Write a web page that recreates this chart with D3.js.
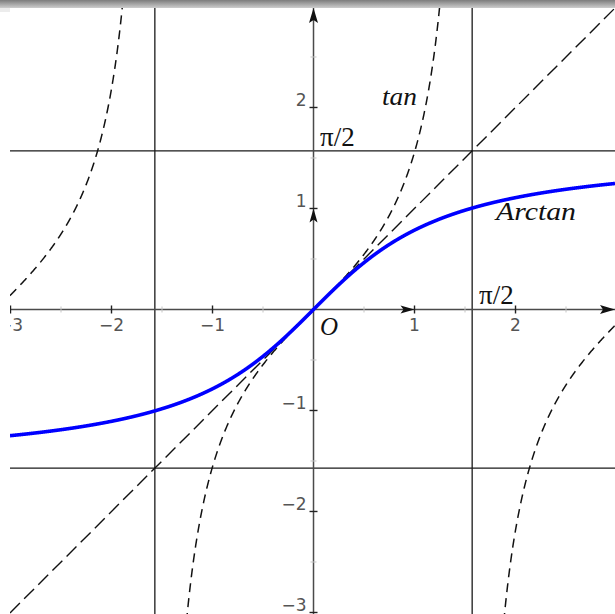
<!DOCTYPE html>
<html>
<head>
<meta charset="utf-8">
<script src="https://cdn.jsdelivr.net/npm/d3@7"></script>
<style>
  html, body { margin: 0; padding: 0; background: #fff; }
  svg { display: block; }
</style>
</head>
<body>
<svg id="chart" width="615" height="614"></svg>
<script>
// ---- data ----
const xDomain = [-3.005, 2.985];
const yDomain = [2.985, -3.015];
const xMajorTicks = [-3, -2, -1, 1, 2];
const yMajorTicks = [-3, -2, -1, 1, 2];
const minorTicks = [-2.5, -1.5, -0.5, 0.5, 1.5, 2.5];
const xTickLabels = ["\u22123", "\u22122", "\u22121", "1", "2"];
const yTickLabels = ["\u22123", "\u22122", "\u22121", "1", "2"];
const halfPi = Math.PI / 2;
const asymptotes = [-halfPi, halfPi];
// branches of tan over the visible window, split at the poles
const tanBranches = [
  [-3.005, -halfPi],
  [-halfPi, halfPi],
  [halfPi, 2.985]
];
const sampleStep = 0.002;

// ---- layout ----
const svg = d3.select("#chart");
const x = d3.scaleLinear().domain(xDomain).range([10, 615]);
const y = d3.scaleLinear().domain(yDomain).range([8, 614]);

const defs = svg.append("defs");
defs.append("clipPath").attr("id", "plot")
  .append("rect").attr("x", 10).attr("y", 8).attr("width", 605).attr("height", 606);
const grad = defs.append("linearGradient").attr("id", "bar")
  .attr("x1", 0).attr("y1", 0).attr("x2", 0).attr("y2", 1);
grad.append("stop").attr("offset", "0%").attr("stop-color", "#7c7c7c");
grad.append("stop").attr("offset", "100%").attr("stop-color", "#cdcdcd");

const g = svg.append("g").attr("clip-path", "url(#plot)");

// reference lines at ±π/2
g.selectAll("line.vasym").data(asymptotes).join("line")
  .attr("x1", d => x(d)).attr("x2", d => x(d))
  .attr("y1", y.range()[0]).attr("y2", y.range()[1])
  .attr("stroke", "#1a1a1a").attr("stroke-width", 1.3);
g.selectAll("line.hasym").data(asymptotes).join("line")
  .attr("y1", d => y(d)).attr("y2", d => y(d))
  .attr("x1", x.range()[0]).attr("x2", x.range()[1])
  .attr("stroke", "#1a1a1a").attr("stroke-width", 1.3);

// axes
const axisColor = "#4a4a4a";
g.append("line").attr("x1", x.range()[0]).attr("x2", x.range()[1])
  .attr("y1", y(0)).attr("y2", y(0)).attr("stroke", axisColor).attr("stroke-width", 1.5);
g.append("line").attr("y1", y.range()[0]).attr("y2", y.range()[1])
  .attr("x1", x(0)).attr("x2", x(0)).attr("stroke", axisColor).attr("stroke-width", 1.5);

// minor ticks
g.selectAll("line.xminor").data(minorTicks).join("line")
  .attr("x1", d => x(d)).attr("x2", d => x(d))
  .attr("y1", y(0) - 3).attr("y2", y(0) + 3)
  .attr("stroke", "#c4c4c4").attr("stroke-width", 1);
g.selectAll("line.yminor").data(minorTicks).join("line")
  .attr("y1", d => y(d)).attr("y2", d => y(d))
  .attr("x1", x(0) - 3).attr("x2", x(0) + 3)
  .attr("stroke", "#c4c4c4").attr("stroke-width", 1);

// major ticks
g.selectAll("line.xmajor").data(xMajorTicks).join("line")
  .attr("x1", d => x(d)).attr("x2", d => x(d))
  .attr("y1", y(0) - 4).attr("y2", y(0) + 4)
  .attr("stroke", "#222").attr("stroke-width", 1.4);
g.selectAll("line.ymajor").data(yMajorTicks).join("line")
  .attr("y1", d => y(d)).attr("y2", d => y(d))
  .attr("x1", x(0) - 4).attr("x2", x(0) + 4)
  .attr("stroke", "#222").attr("stroke-width", 1.4);

// tick labels
g.selectAll("text.xlab").data(xMajorTicks).join("text")
  .attr("x", d => x(d)).attr("y", y(0) + 22)
  .attr("text-anchor", "middle")
  .attr("font-family", "DejaVu Sans, sans-serif").attr("font-size", 17)
  .attr("fill", "#555")
  .text((d, i) => xTickLabels[i]);
g.selectAll("text.ylab").data(yMajorTicks).join("text")
  .attr("x", x(0) - 7).attr("y", d => y(d) - 1)
  .attr("text-anchor", "end")
  .attr("font-family", "DejaVu Sans, sans-serif").attr("font-size", 17)
  .attr("fill", "#555")
  .text((d, i) => yTickLabels[i]);

// arrowheads
function arrow(tipX, tipY, dir, len, half) {
  // dir: "right" or "up"
  if (dir === "right") {
    return `M${tipX},${tipY}L${tipX - len},${tipY - half}L${tipX - len + 3},${tipY}L${tipX - len},${tipY + half}Z`;
  }
  return `M${tipX},${tipY}L${tipX - half},${tipY + len}L${tipX},${tipY + len - 3}L${tipX + half},${tipY + len}Z`;
}
g.append("path").attr("d", arrow(x.range()[1], y(0), "right", 15, 4.5)).attr("fill", "#111");
g.append("path").attr("d", arrow(x(0), y.range()[0], "up", 15, 4.5)).attr("fill", "#111");
g.append("path").attr("d", arrow(x(1), y(0), "right", 14, 4)).attr("fill", "#111");
g.append("path").attr("d", arrow(x(0), y(1), "up", 14, 4)).attr("fill", "#111");

// identity line y = x (long dashes)
const diag = xDomain;
g.append("line")
  .attr("x1", x(diag[0])).attr("y1", y(diag[0]))
  .attr("x2", x(diag[1])).attr("y2", y(diag[1]))
  .attr("stroke", "#111").attr("stroke-width", 1.4)
  .attr("stroke-dasharray", "14,6");

// tan branches (dashed)
const line = d3.line().x(d => x(d[0])).y(d => y(d[1]));
tanBranches.forEach(([a, b]) => {
  const eps = 0.02;
  const lo = a === -halfPi ? a + eps : a;
  const hi = b === halfPi ? b - eps : b;
  const pts = d3.range(lo, hi, sampleStep).concat([hi])
    .map(t => [t, Math.tan(t)])
    .filter(p => p[1] > -4 && p[1] < 4);
  g.append("path").datum(pts).attr("d", line)
    .attr("fill", "none").attr("stroke", "#111").attr("stroke-width", 1.5)
    .attr("stroke-dasharray", "9,6");
});

// Arctan (blue)
const atanPts = d3.range(xDomain[0], xDomain[1], sampleStep).concat([xDomain[1]])
  .map(t => [t, Math.atan(t)]);
g.append("path").datum(atanPts).attr("d", line)
  .attr("fill", "none").attr("stroke", "#0000ff").attr("stroke-width", 3.6)
  .attr("stroke-linejoin", "round");

// annotations
const serif = "Liberation Serif, Times New Roman, serif";
svg.append("text").attr("x", 320).attr("y", 146)
  .attr("font-family", serif).attr("font-size", 27).attr("fill", "#111").text("\u03c0/2");
svg.append("text").attr("x", 479).attr("y", 304)
  .attr("font-family", serif).attr("font-size", 27).attr("fill", "#111").text("\u03c0/2");
svg.append("text").attr("x", 382).attr("y", 105)
  .attr("font-family", serif).attr("font-style", "italic").attr("font-size", 25)
  .attr("fill", "#111").attr("textLength", 35).attr("lengthAdjust", "spacingAndGlyphs")
  .text("tan");
svg.append("text").attr("x", 496).attr("y", 220)
  .attr("font-family", serif).attr("font-style", "italic").attr("font-size", 25)
  .attr("fill", "#111").attr("textLength", 80).attr("lengthAdjust", "spacingAndGlyphs")
  .text("Arctan");
svg.append("text").attr("x", 320).attr("y", 335)
  .attr("font-family", serif).attr("font-style", "italic").attr("font-size", 25)
  .attr("fill", "#111").text("O");

// title bar strip along the top edge
svg.append("rect").attr("x", 0).attr("y", 0).attr("width", 615).attr("height", 8)
  .attr("fill", "url(#bar)");
svg.append("rect").attr("x", 0).attr("y", 8).attr("width", 10).attr("height", 4)
  .attr("fill", "#ececec");
</script>
</body>
</html>
